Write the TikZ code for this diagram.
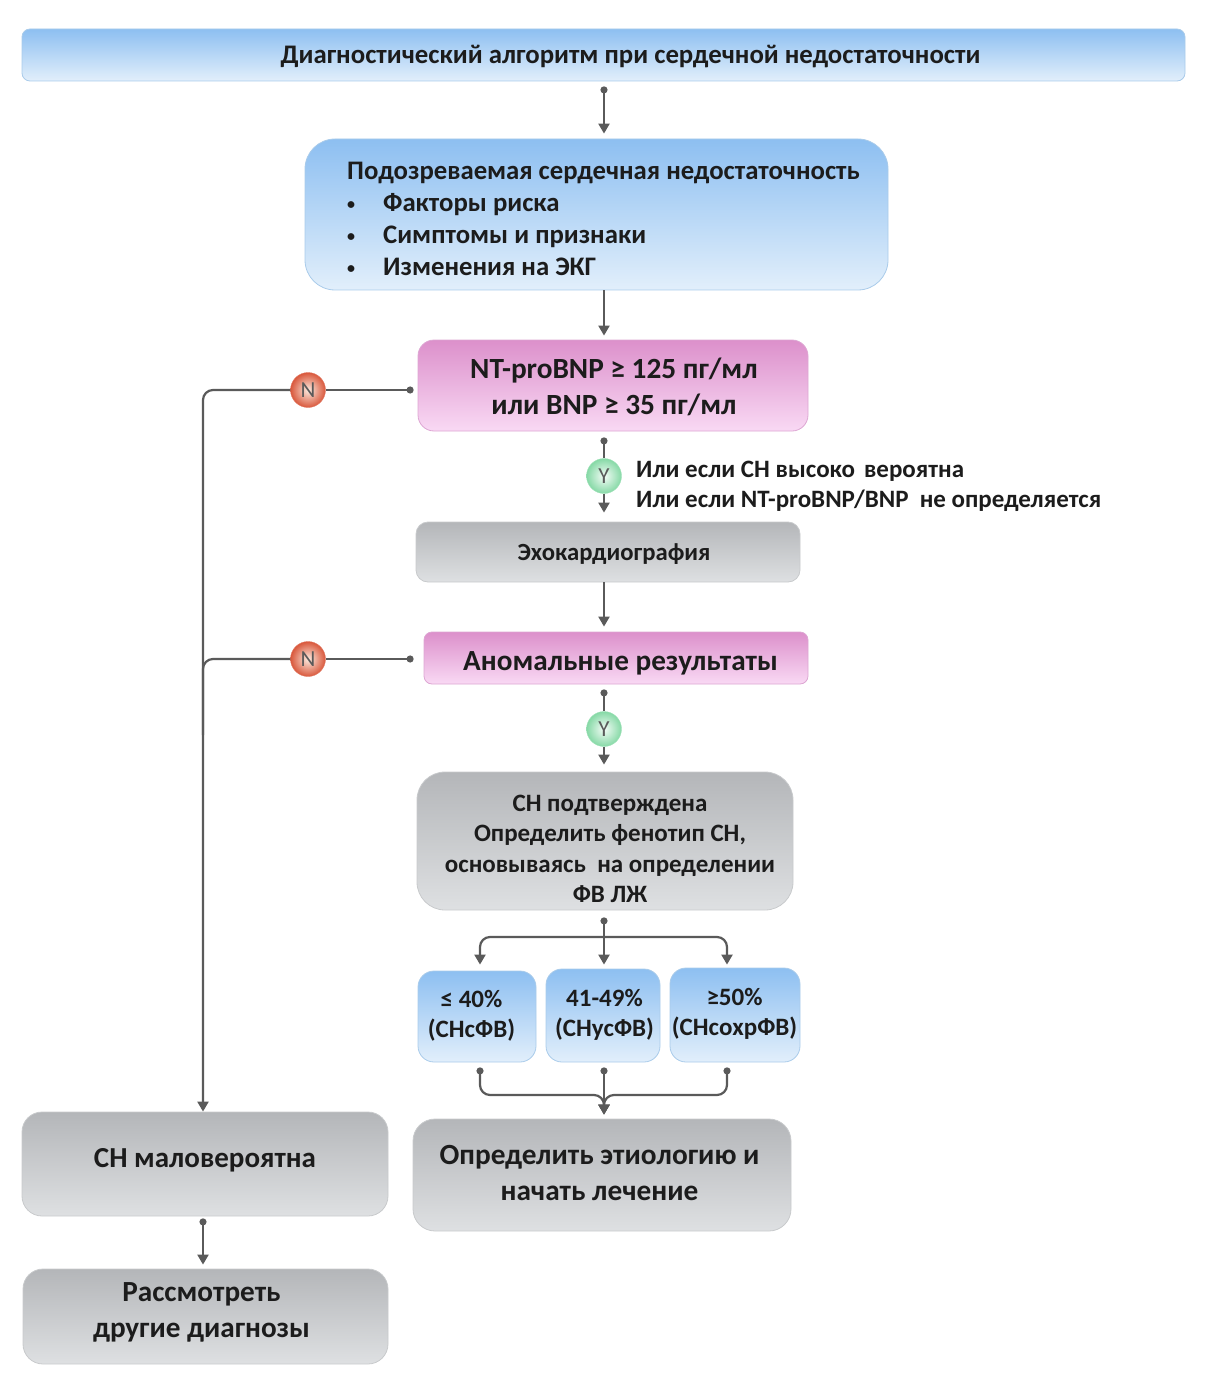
\documentclass[tikz,border=0pt]{standalone}
\usepackage{fontspec}
\usepackage{xcolor}
\setmainfont{Carlito}
\usetikzlibrary{positioning,shapes,arrows.meta}

\definecolor{linegray}{HTML}{5A5A5A}
\definecolor{inktext}{HTML}{1C1C1C}
\definecolor{bluetop}{HTML}{8DBFF1}
\definecolor{bluebot}{HTML}{E2EFFB}
\definecolor{blueedge}{HTML}{A9CBEA}
\definecolor{pinktop}{HTML}{DC90CB}
\definecolor{pinkbot}{HTML}{F9D9F4}
\definecolor{pinkedge}{HTML}{DDA6D3}
\definecolor{graytop}{HTML}{B4B6B9}
\definecolor{graybot}{HTML}{DEE0E2}
\definecolor{grayedge}{HTML}{C8CACC}
\definecolor{nrim}{HTML}{D9583C}
\definecolor{ncore}{HTML}{FCEBE0}
\definecolor{yrim}{HTML}{86D9A6}
\definecolor{ycore}{HTML}{F4FCF7}

\newcommand{\fsize}[2]{\fontsize{#1}{#2}\selectfont\bfseries}
\newcommand{\nudged}[2]{\begin{tabular}{@{\hspace{#1}}c@{}}#2\end{tabular}}
\newcommand{\lowered}[2]{\raisebox{-#1}[\height][\depth]{#2}}
\newcommand{\blt}{\makebox[36pt][l]{\raisebox{2.5pt}{\fontsize{16}{16}\selectfont •}}}

\tikzset{
  bluebox/.style={draw=blueedge,top color=bluetop,bottom color=bluebot,text=inktext,line width=.8pt,inner sep=0pt},
  pinkbox/.style={draw=pinkedge,top color=pinktop,bottom color=pinkbot,text=inktext,line width=.8pt,inner sep=0pt},
  graybox/.style={draw=grayedge,top color=graytop,bottom color=graybot,text=inktext,line width=.8pt,inner sep=0pt},
  nball/.style={circle,minimum size=35pt,inner sep=0pt,draw=nrim!80,inner color=ncore,outer color=nrim,text=linegray,font=\fontsize{23}{23}\selectfont},
  yball/.style={circle,minimum size=35pt,inner sep=0pt,draw=yrim!80,inner color=ycore,outer color=yrim,text=linegray,font=\fontsize{23}{23}\selectfont},
  link/.style={linegray,line width=2.2pt,rounded corners=10pt},
  dotarrow/.style={link,{Circle[length=7pt,width=7pt]}-{Triangle[length=10pt,width=11pt]}},
  dotline/.style={link,{Circle[length=7pt,width=7pt]}-},
  plainarrow/.style={link,-{Triangle[length=10pt,width=11pt]}}
}

\begin{document}
\begin{tikzpicture}[x=1pt,y=-1pt]
\useasboundingbox (0,0) rectangle (1208,1396);

\node[bluebox,rounded corners=8pt,minimum width=1163pt,minimum height=52pt,font=\fsize{26.8}{32}] (t0) at (603.5,55) {\lowered{2pt}{\nudged{54pt}{Диагностический алгоритм при сердечной недостаточности}}};
\node[bluebox,rounded corners=30pt,minimum width=583pt,minimum height=151pt,font=\fsize{26.75}{32}] (s1) at (596.5,214.5) {\lowered{7pt}{\begin{tabular}{@{\hspace{14pt}}l@{}}Подозреваемая сердечная недостаточность\\\blt Факторы риска\\\blt Симптомы и признаки\\\blt Изменения на ЭКГ\end{tabular}}};
\node[pinkbox,rounded corners=16pt,minimum width=390pt,minimum height=91pt,font=\fsize{29.3}{36}] (p1) at (613,385.5) {\lowered{4pt}{\nudged{2pt}{NT-proBNP ≥ 125 пг/мл\\или BNP ≥ 35 пг/мл}}};
\node[graybox,rounded corners=12pt,minimum width=384pt,minimum height=60pt,font=\fsize{24.7}{30}] (e1) at (608,552) {\lowered{2pt}{\nudged{12pt}{Эхокардиография}}};
\node[pinkbox,rounded corners=8pt,minimum width=384pt,minimum height=52pt,font=\fsize{29.2}{36}] (p2) at (616,658) {\lowered{5pt}{\nudged{9pt}{Аномальные результаты}}};
\node[graybox,rounded corners=28pt,minimum width=376pt,minimum height=138pt,font=\fsize{25}{30.5}] (h1) at (605,841) {\lowered{10pt}{\nudged{10pt}{СН подтверждена\\Определить фенотип СН,\\основываясь\ \ на определении\\ФВ ЛЖ}}};
\node[bluebox,rounded corners=16pt,minimum width=118pt,minimum height=91pt,font=\fsize{25}{30}] (b1) at (477,1016.5) {\nudged{-11pt}{≤ 40\%\\(СНсФВ)}};
\node[bluebox,rounded corners=16pt,minimum width=114pt,minimum height=93pt,font=\fsize{25}{30}] (b2) at (603,1015.5) {\nudged{3pt}{41-49\%\\(СНусФВ)}};
\node[bluebox,rounded corners=16pt,minimum width=130pt,minimum height=94pt,font=\fsize{25}{30}] (b3) at (735,1015) {\lowered{-1pt}{\nudged{-1pt}{≥50\%\\(СНсохрФВ)}}};
\node[graybox,rounded corners=22pt,minimum width=378pt,minimum height=112pt,font=\fsize{29.3}{36}] (g1) at (602,1175) {\nudged{-5pt}{Определить этиологию и\\начать лечение}};
\node[graybox,rounded corners=20pt,minimum width=366pt,minimum height=104pt,font=\fsize{29}{36}] (g2) at (205,1164) {\lowered{-4pt}{СН маловероятна}};
\node[graybox,rounded corners=20pt,minimum width=365pt,minimum height=95pt,font=\fsize{29.2}{36}] (g3) at (205.5,1316.5) {\lowered{-4pt}{\nudged{-8pt}{Рассмотреть\\другие диагнозы}}};

\node[nball] (n1) at (308,390) {N};
\node[nball] (n2) at (308,659) {N};
\node[yball] (y1) at (604,476) {Y};
\node[yball] (y2) at (604,729) {Y};

\node[anchor=west,inner sep=0pt,align=left,text=inktext,font=\fsize{25}{30}] (note) at (636,486) {Или если СН высоко\hspace{9pt}вероятна\\Или если NT-proBNP/BNP\ \ не определяется};

\coordinate (c0) at (604,0);
\coordinate (c1) at (480,0);
\coordinate (c3) at (727,0);
\coordinate (c4) at (203,0);
\coordinate (split) at (604,937);
\coordinate (merge) at (604,1095);
\coordinate (j2) at (203,735);

\draw[dotarrow,shorten <=5pt,shorten >=5pt] (c0 |- t0.south) -- (c0 |- s1.north);
\draw[plainarrow,shorten >=4pt] (c0 |- s1.south) -- (c0 |- p1.north);
\draw[dotline,shorten <=6pt] (c0 |- p1.south) -- (y1.north);
\draw[plainarrow,shorten >=9pt] (y1.south) -- (c0 |- e1.north);
\draw[plainarrow,shorten >=5pt] (c0 |- e1.south) -- (c0 |- p2.north);
\draw[dotline,shorten <=5pt] (c0 |- p2.south) -- (y2.north);
\draw[plainarrow,shorten >=7pt] (y2.south) -- (c0 |- h1.north);

\draw[dotline,shorten <=4pt] (n1 -| p1.west) -- (n1.east);
\draw[plainarrow] (n1.west) -| (c4 |- g2.north);
\draw[dotline,shorten <=10pt] (n2 -| p2.west) -- (n2.east);
\draw[link] (n2.west) -| (j2);

\draw[dotarrow,shorten <=7pt,shorten >=4pt] (c0 |- h1.south) -- (c0 |- b2.north);
\draw[plainarrow,shorten >=6pt] (split) -| (c1 |- b1.north);
\draw[plainarrow,shorten >=3pt] (split) -| (c3 |- b3.north);

\draw[dotarrow,shorten <=5pt,shorten >=4pt] (c0 |- b2.south) -- (c0 |- g1.north);
\draw[dotarrow,shorten <=5pt,shorten >=4pt] (c1 |- b1.south) |- (merge) -- (c0 |- g1.north);
\draw[dotarrow,shorten <=5pt,shorten >=4pt] (c3 |- b3.south) |- (merge) -- (c0 |- g1.north);

\draw[dotarrow,shorten <=2pt,shorten >=4pt] (c4 |- g2.south) -- (c4 |- g3.north);
\end{tikzpicture}
\end{document}
